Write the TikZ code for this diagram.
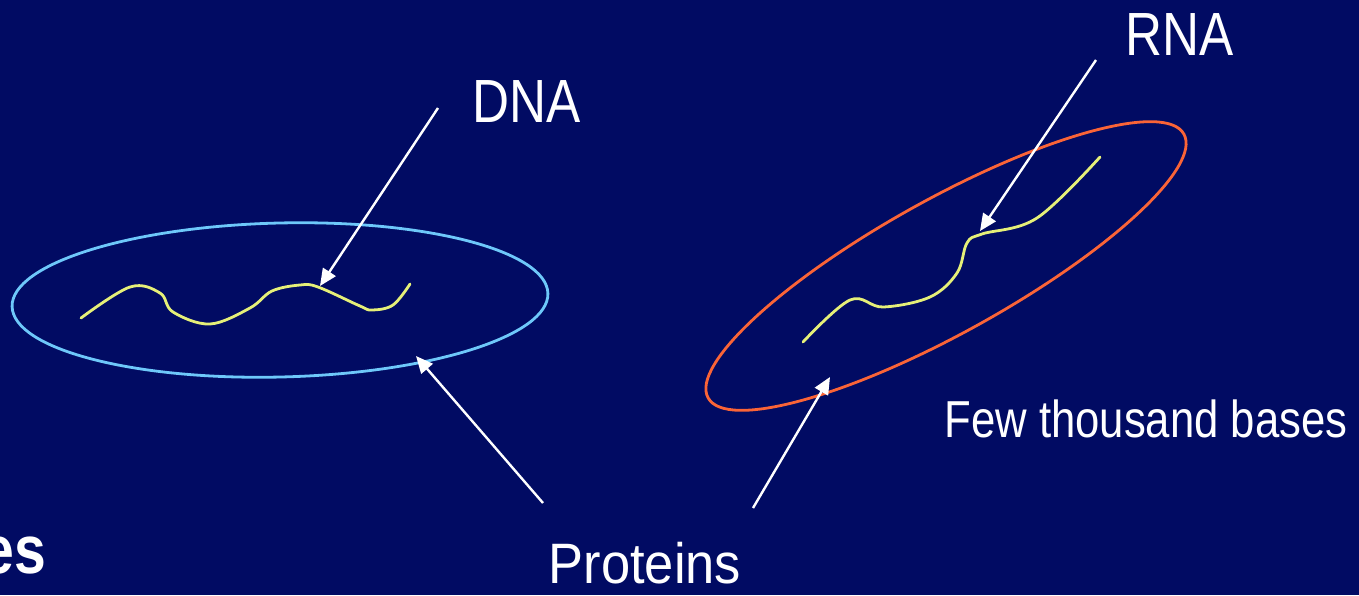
\documentclass[tikz,border=0pt]{standalone}
\usepackage{fontspec}
\setmainfont[FakeStretch=0.84]{Liberation Sans}
\newfontfamily\widerfont[FakeStretch=0.92]{Liberation Sans}
\usetikzlibrary{arrows.meta}
\definecolor{DeepNavy} {RGB}{1,   11,  99}
\definecolor{SkyBlue}  {RGB}{110, 200, 250}
\definecolor{Coral}    {RGB}{250, 100,  55}
\definecolor{PaleLime} {RGB}{230, 240, 120}

\begin{document}
\begin{tikzpicture}[x=1pt, y=-1pt,
    pointer/.style={white, line width=2.4pt, -{Triangle[length=17pt,width=15pt]}},
    strand/.style={PaleLime, line width=2.8pt, line cap=round},
    label/.style={white, inner sep=0pt, anchor=base}]
  \fill[DeepNavy] (0,0) rectangle (1359,595);
  \useasboundingbox (0,0) rectangle (1359,595);

  % the two envelopes
  \draw[SkyBlue, line width=2.8pt, rotate around={1.4:(280,300)}] (280,300) ellipse (268 and 77);
  \draw[Coral, line width=2.8pt, rotate around={29:(946,266)}] (946,266) ellipse (272 and 67);

  % strands inside
  \draw[strand] plot[smooth, tension=0.6] coordinates {(81,318) (130,287) (160,293) (173,312)
    (210,324) (250,308) (272,291) (300,285) (318,287) (360,306) (372,310) (393,305) (410,284)};
  \draw[strand] plot[smooth, tension=0.6] coordinates {(803,342) (850,300) (883,307) (930,297)
    (957,273) (967,243) (982,234) (1037,218) (1100,157)};

  \node[label, font=\fontsize{61}{61}\selectfont] (dna) at (527,122) {DNA};
  \node[label, font=\fontsize{61}{61}\selectfont] (rna) at (1180,55) {RNA};
  \node[label, font=\widerfont\fontsize{57}{57}\selectfont] (prot) at (645,583) {Proteins};
  \node[label, font=\fontsize{52}{52}\selectfont] (few) at (1146,437) {Few thousand bases};
  \node[label, anchor=base east, font=\bfseries\fontsize{68}{68}\selectfont] (cut) at (46,573) {es};

  \coordinate (dnatail) at (438,108);
  \coordinate (dnatip) at (320,286);
  \coordinate (rnatail) at (1096,60);
  \coordinate (rnatip) at (980,231);
  \coordinate (lefttail) at (543,503);
  \coordinate (lefttip) at (416,356);
  \coordinate (righttail) at (753,508);
  \coordinate (righttip) at (830,377);

  \draw[pointer] (dnatail) -- (dnatip);
  \draw[pointer] (rnatail) -- (rnatip);
  \draw[pointer] (lefttail) -- (lefttip);
  \draw[pointer] (righttail) -- (righttip);
\end{tikzpicture}
\end{document}
